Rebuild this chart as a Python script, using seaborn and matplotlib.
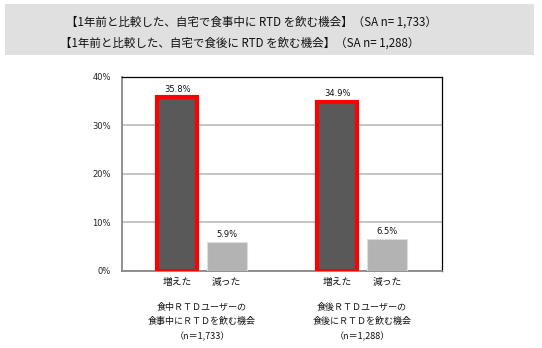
import matplotlib
matplotlib.use("Agg")
import matplotlib.pyplot as plt
import matplotlib.transforms as mtransforms
from matplotlib.patches import Rectangle
import pandas as pd
import seaborn as sns

# Survey results: share of respondents whose RTD drinking occasions changed
groups = ["食中", "食後"]
group_labels = [
    "食中ＲＴＤユーザーの\n食事中にＲＴＤを飲む機会\n（n＝1,733）",
    "食後ＲＴＤユーザーの\n食後にＲＴＤを飲む機会\n（n＝1,288）",
]
answers = ["増えた", "減った"]
increased = [35.8, 34.9]
decreased = [5.9, 6.5]
y_ticks = [0, 10, 20, 30, 40]
titles = [
    "【1年前と比較した、自宅で食事中に RTD を飲む機会】（SA n= 1,733）",
    "【1年前と比較した、自宅で食後に RTD を飲む機会】（SA n= 1,288）",
]

df = pd.DataFrame({
    "group": groups * 2,
    "answer": [answers[0]] * 2 + [answers[1]] * 2,
    "value": increased + decreased,
})

sns.set_theme(style="white")
plt.rcParams["font.family"] = ["Noto Sans CJK JP", "DejaVu Sans"]

fig = plt.figure(figsize=(5.42, 3.48), dpi=100)
ax = fig.add_axes([0.225, 0.2213, 0.5905, 0.5575])

# Grey title band across the top
fig.patches.append(Rectangle((0.0092, 0.842), 0.976, 0.1466,
                             transform=fig.transFigure, facecolor="#e0e0e0",
                             edgecolor="none", zorder=0))
fig.text(251.5 / 542, 1 - 22 / 348, titles[0], ha="center", va="center",
         fontsize=8.3, color="#111111")
fig.text(240 / 542, 1 - 43 / 348, titles[1], ha="center", va="center",
         fontsize=8.3, color="#111111")

sns.barplot(data=df, x="group", y="value", hue="answer", order=groups,
            hue_order=answers, palette=["#595959", "#b3b3b3"],
            width=0.62, gap=0.2, saturation=1, legend=False, ax=ax, zorder=3)

# Highlight the "increased" bars with a thick red outline
for bar in ax.containers[0]:
    bar.set_edgecolor("#ff0000")
    bar.set_linewidth(3.0)
for bar in ax.containers[1]:
    bar.set_edgecolor("#dddddd")
    bar.set_linewidth(0.8)

for cont in ax.containers:
    ax.bar_label(cont, fmt="%.1f%%", fontsize=6, padding=2.5, color="#111111",
                 family="DejaVu Sans")

ax.set_xlim(-0.5, 1.5)
ax.set_ylim(0, 40)
ax.set_yticks(y_ticks)
ax.set_yticklabels([f"{t}%" for t in y_ticks], fontsize=6, family="DejaVu Sans",
                   color="#222222")
ax.tick_params(axis="y", length=0, pad=8)

# Each bar gets its own answer label underneath
centers, names = [], []
for cont, name in zip(ax.containers, answers):
    for bar in cont:
        centers.append(bar.get_x() + bar.get_width() / 2)
        names.append(name)
ax.set_xticks(centers)
ax.set_xticklabels(names, fontsize=7, color="#111111")
ax.tick_params(axis="x", length=0, pad=4.5)
ax.set_xlabel("")
ax.set_ylabel("")

ax.grid(axis="y", color="#bfbfbf", linewidth=1.3, zorder=0)
ax.set_axisbelow(True)
for side in ["left", "bottom"]:
    ax.spines[side].set_color("#888888")
    ax.spines[side].set_linewidth(1.3)
for side in ["top", "right"]:
    ax.spines[side].set_color("#000000")
    ax.spines[side].set_linewidth(0.9)

trans = mtransforms.blended_transform_factory(ax.transData, fig.transFigure)
for i, label in enumerate(group_labels):
    ax.text(i, 1 - 322 / 348, label, transform=trans, ha="center",
            va="center", fontsize=6.5, linespacing=1.8, color="#111111")

fig.savefig("out.png", dpi=100)
